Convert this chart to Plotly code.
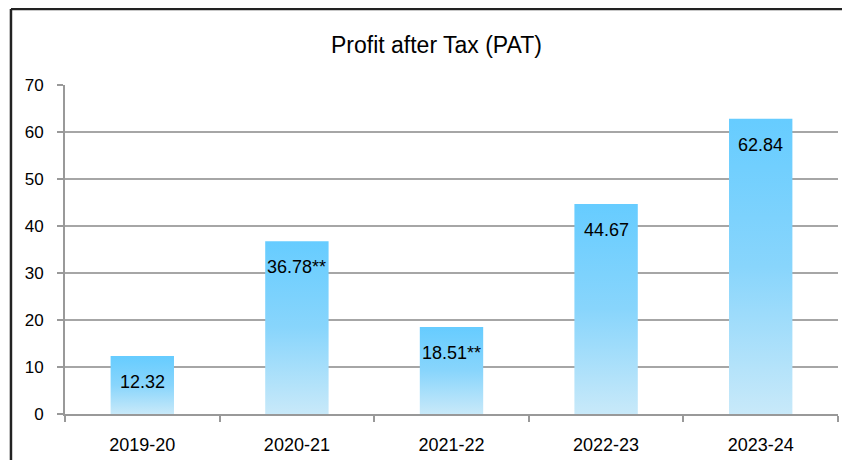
import plotly.graph_objects as go

years = ["2019-20", "2020-21", "2021-22", "2022-23", "2023-24"]
pat = [12.32, 36.78, 18.51, 44.67, 62.84]
labels = ["12.32", "36.78**", "18.51**", "44.67", "62.84"]

half = 0.205
grad = [[0, "#C8E9F9"], [0.5, "#88D5FC"], [1, "#66CCFF"]]
base = "Liberation Sans, Arial"

fig = go.Figure()
for i, v in enumerate(pat):
    fig.add_trace(
        go.Scatter(
            x=[i - half, i + half, i + half, i - half, i - half],
            y=[0, 0, v, v, 0],
            mode="lines",
            line=dict(width=0),
            fill="toself",
            fillgradient=dict(type="vertical", colorscale=grad),
            hoverinfo="skip",
            showlegend=False,
        )
    )
    fig.add_annotation(
        x=i, y=v, text=labels[i], showarrow=False, yshift=-26,
        font=dict(family=base, size=18, color="black"),
    )

fig.update_layout(
    width=850, height=460,
    margin=dict(l=57, r=20, t=77, b=54),
    plot_bgcolor="white", paper_bgcolor="white",
    title=dict(text="Profit after Tax (PAT)", x=0.504, xanchor="center", y=0.92, yanchor="middle",
               font=dict(family=base, size=23, color="black")),
    font=dict(family=base, color="black"),
    shapes=[
        dict(type="line", xref="paper", yref="paper", x0=-0.0699, x1=1.06, y0=1.231, y1=1.231,
             line=dict(color="#222222", width=2.5)),
        dict(type="line", xref="paper", yref="paper", x0=-0.0699, x1=-0.0699, y0=-0.3, y1=1.231,
             line=dict(color="#222222", width=2.5)),
    ],
)
fig.update_xaxes(
    range=[-0.5, 4.5], tickvals=list(range(5)), ticktext=years, ticks="",
    showgrid=False, zeroline=False, showline=True, linecolor="#999999", linewidth=2,
    tickfont=dict(size=18), ticklabelstandoff=13,
    minor=dict(tickvals=[-0.5, 0.5, 1.5, 2.5, 3.5, 4.5], ticks="outside", ticklen=6,
               tickcolor="#999999", tickwidth=2, showgrid=False),
)
fig.update_yaxes(
    range=[0, 70], dtick=10, ticks="outside", ticklen=6, tickcolor="#999999", tickwidth=2,
    showgrid=True, gridcolor="#A6A6A6", gridwidth=2, zeroline=False,
    showline=True, linecolor="#999999", linewidth=2, tickfont=dict(size=17), ticklabelstandoff=10,
)
fig.write_html("out.html")
